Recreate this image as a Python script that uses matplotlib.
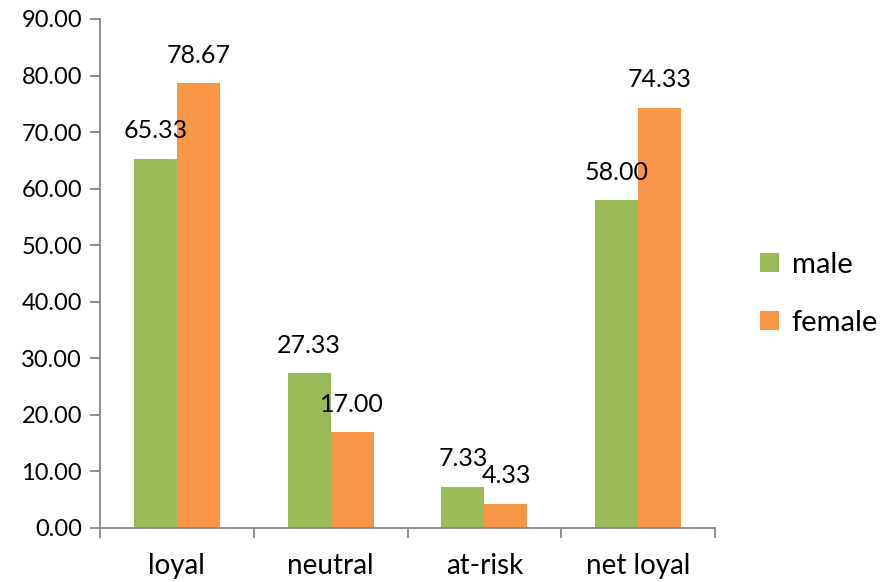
import numpy as np
import matplotlib.pyplot as plt

# Loyalty groups by gender (percent)
categories = ['loyal', 'neutral', 'at-risk', 'net loyal']
male = [65.33, 27.33, 7.33, 58.00]
female = [78.67, 17.00, 4.33, 74.33]

plt.rcParams['font.family'] = ['Lato', 'DejaVu Sans']

fig = plt.figure(figsize=(8.9, 5.82), dpi=100)
ax = fig.add_axes([0.1124, 0.0928, 0.6910, 0.8746])

x = np.arange(len(categories))
w = 0.28
bars_m = ax.bar(x - w / 2, male, w, color='#9BBB59', label='male', zorder=2)
bars_f = ax.bar(x + w / 2, female, w, color='#F79646', label='female', zorder=2)

for bars, vals in ((bars_m, male), (bars_f, female)):
    for b, v in zip(bars, vals):
        ax.annotate(f'{v:.2f}', (b.get_x() + b.get_width() / 2, v),
                    xytext=(0, 20), textcoords='offset points',
                    ha='center', va='center', fontsize=18, zorder=3)

ax.set_xlim(-0.5, len(categories) - 0.5)
ax.set_ylim(0, 90)
ax.set_yticks(np.arange(0, 91, 10))
ax.set_yticklabels([f'{t:.2f}' for t in np.arange(0, 91, 10)])

# category labels at centres, tick marks at the boundaries
ax.set_xticks(x)
ax.set_xticklabels(categories)
ax.set_xticks(np.arange(-0.5, len(categories), 1), minor=True)
ax.tick_params(axis='x', which='major', length=0, pad=18, labelsize=20)
ax.tick_params(axis='x', which='minor', length=7, width=1.3, color='#868686')
ax.tick_params(axis='y', length=7, width=1.3, color='#868686', labelsize=17, pad=6)

for side in ('top', 'right'):
    ax.spines[side].set_visible(False)
for side in ('left', 'bottom'):
    ax.spines[side].set_color('#868686')
    ax.spines[side].set_linewidth(1.3)

ax.legend(loc='center left', bbox_to_anchor=(1.03, 0.46), frameon=False,
          fontsize=21, handlelength=0.65, handleheight=0.65, handletextpad=0.45,
          labelspacing=1.1)

fig.savefig('out.png', dpi=100)
